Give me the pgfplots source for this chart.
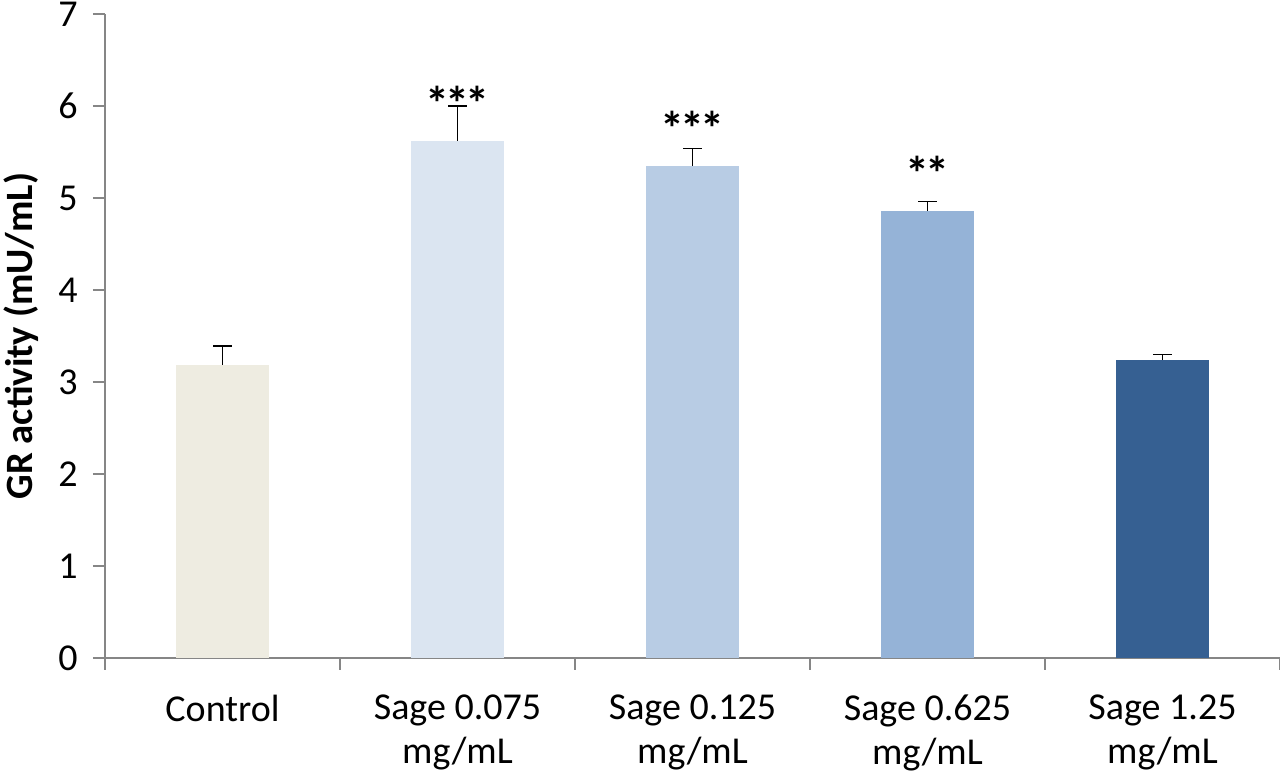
\documentclass[border=0pt]{standalone}
\usepackage{pgfplots}
\pgfplotsset{compat=1.18}
\usepackage{fontspec}
\setmainfont{Carlito}

\definecolor{cctrl}{HTML}{EEECE1}
\definecolor{csa}{HTML}{DBE5F1}
\definecolor{csb}{HTML}{B8CCE4}
\definecolor{csc}{HTML}{95B3D7}
\definecolor{csd}{HTML}{366092}
\definecolor{axgray}{HTML}{868686}

\begin{document}
\begin{tikzpicture}
\begin{axis}[
    name=ax,
    scale only axis,
    width=881.25pt, height=483pt,
    ybar, bar width=69.75pt, bar shift=0pt,
    xmin=-0.5, xmax=4.5, ymin=0, ymax=7,
    xtick={-0.5,0.5,1.5,2.5,3.5,4.5},
    xticklabels={},
    extra x ticks={0,1,2,3,4},
    extra x tick labels={Control, {Sage 0.075\\mg/mL}, {Sage 0.125\\mg/mL}, {Sage 0.625\\mg/mL}, {Sage 1.25\\mg/mL}},
    extra x tick style={major tick length=0pt, tick style={draw=none}},
    ytick={0,1,...,7},
    axis x line*=bottom, axis y line*=left,
    axis line style={axgray, line width=1pt},
    tick align=outside,
    major tick length=9pt,
    tick style={axgray, line width=1pt},
    /pgf/number format/assume math mode=true,
    tick label style={font=\fontsize{28.5}{33}\selectfont, black},
    xticklabel style={align=center, yshift=-24pt},
    yticklabel style={xshift=-8pt},
    ylabel={\bfseries GR activity (mU/mL)},
    ylabel style={font=\fontsize{29}{34}\selectfont},
    ylabel shift=8pt,
]
\pgfplotsset{every axis plot/.append style={
    error bars/y dir=plus, error bars/y explicit,
    error bars/error bar style={black, line width=1.2pt},
    error bars/error mark options={black, line width=1.2pt, rotate=90, mark size=7pt}}}
\addplot[fill=cctrl, draw=none] coordinates {(0,3.19) +- (0,0.20)};
\addplot[fill=csa, draw=none] coordinates {(1,5.62) +- (0,0.38)};
\addplot[fill=csb, draw=none] coordinates {(2,5.35) +- (0,0.19)};
\addplot[fill=csc, draw=none] coordinates {(3,4.86) +- (0,0.10)};
\addplot[fill=csd, draw=none] coordinates {(4,3.24) +- (0,0.06)};
\addplot[draw=none, fill=none, error bars/y dir=none, nodes near coords, point meta=explicit symbolic,
    nodes near coords style={anchor=south, yshift=12pt, font=\fontsize{36}{40}\selectfont\bfseries, black}]
    coordinates {(1,5.62) [*\kern-3pt*\kern-3pt*] (2,5.35) [*\kern-3pt*\kern-3pt*] (3,4.86) [*\kern-3pt*]};
\end{axis}
\pgfresetboundingbox
\useasboundingbox ([xshift=-78.75pt, yshift=-87pt]ax.south west) rectangle ([yshift=10.5pt]ax.north east);
\end{tikzpicture}
\end{document}
